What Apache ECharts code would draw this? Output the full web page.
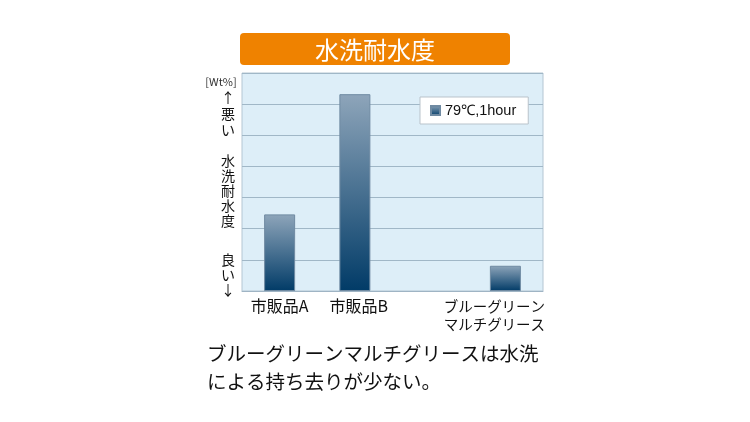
<!DOCTYPE html>
<html>
<head>
<meta charset="utf-8">
<script src="https://cdn.jsdelivr.net/npm/echarts@6/dist/echarts.min.js"></script>
<style>
  html, body { margin: 0; padding: 0; background: #fff; }
  #chart { width: 750px; height: 422px; }
</style>
</head>
<body>
<div id="chart"></div>
<script>
const categories = ["市販品A", "市販品B", "", "ブルーグリーン\nマルチグリース"];
const values = [2.46, 6.32, null, 0.81];
const seriesName = "79℃,1hour";
const titleText = "水洗耐水度";
const unitText = "[Wt%]";
const noteText = "ブルーグリーンマルチグリースは水洗\nによる持ち去りが少ない。";

const font = "'Noto Sans CJK JP', 'Noto Sans', sans-serif";
const chart = echarts.init(document.getElementById("chart"), null, { renderer: "canvas" });

const barColor = new echarts.graphic.LinearGradient(0, 0, 0, 1, [
  { offset: 0, color: "#8ea5ba" },
  { offset: 1, color: "#013b67" },
]);

// small per-label nudges so the category names sit where the original puts them
const labelPad = [null, [0, 0, 0, 8], null, [0, 22, 0, 0]];

chart.setOption({
  animation: false,
  backgroundColor: "#fff",
  grid: {
    left: 242, right: 207, top: 73, bottom: 131,
    show: true, backgroundColor: "#ddeef8", borderColor: "#b4c6d3", borderWidth: 1,
  },
  legend: {
    data: [seriesName],
    left: 420, top: 97,
    padding: [6, 12, 6, 10],
    backgroundColor: "#fff", borderColor: "#b9c3cb", borderWidth: 1,
    icon: "rect", itemWidth: 9, itemHeight: 9, itemGap: 5,
    textStyle: { fontSize: 14.5, color: "#111", fontFamily: "'Liberation Sans', Arial, sans-serif" },
  },
  xAxis: {
    type: "category",
    data: categories.map((c, i) => labelPad[i]
      ? { value: c, textStyle: { padding: labelPad[i], fontSize: i === 3 ? 14.5 : 16 } }
      : c),
    axisTick: { show: false },
    axisLine: { lineStyle: { color: "#9fb4c4" } },
    axisLabel: { fontSize: 16, color: "#111", fontFamily: font, margin: 6, lineHeight: 18, interval: 0 },
  },
  yAxis: {
    type: "value", min: 0, max: 7, interval: 1,
    axisLabel: { show: false },
    axisLine: { show: false }, axisTick: { show: false },
    splitLine: { lineStyle: { color: "#a0b7c7", width: 1 } },
  },
  series: [{
    name: seriesName, type: "bar", data: values, barWidth: 31,
    itemStyle: { color: barColor, borderColor: "#6f8aa2", borderWidth: 1 },
  }],
  graphic: [
    {
      type: "rect", left: 240, top: 33,
      shape: { width: 270, height: 32, r: 4 },
      style: { fill: "#ef8200" },
    },
    {
      type: "text", x: 375, y: 50,
      style: { text: titleText, fill: "#fff", fontSize: 24, fontFamily: font,
        textAlign: "center", textVerticalAlign: "middle" },
    },
    {
      type: "text", x: 221, y: 82,
      style: { text: unitText, fill: "#333", fontSize: 11, fontFamily: font,
        textAlign: "center", textVerticalAlign: "middle" },
    },
    {
      type: "text", x: 228, y: 90,
      style: { text: "↑\n悪\nい", fill: "#111", fontSize: 14, lineHeight: 16, fontFamily: font, textAlign: "center" },
    },
    {
      type: "text", x: 228, y: 153,
      style: { text: "水\n洗\n耐\n水\n度", fill: "#111", fontSize: 14, lineHeight: 15, fontFamily: font, textAlign: "center" },
    },
    {
      type: "text", x: 228, y: 252,
      style: { text: "良\nい\n↓", fill: "#111", fontSize: 14, lineHeight: 15, fontFamily: font, textAlign: "center" },
    },
    {
      type: "text", x: 207, y: 340,
      style: { text: noteText, fill: "#111", fontSize: 19.5, lineHeight: 28, fontFamily: font },
    },
  ],
});
</script>
</body>
</html>
